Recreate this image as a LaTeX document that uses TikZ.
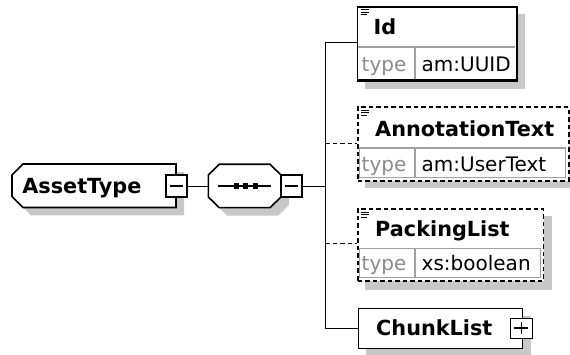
\documentclass[tikz,border=0pt]{standalone}
\usepackage{fontspec}
\setmainfont{DejaVu Sans}
\usetikzlibrary{calc}
\definecolor{shadowgray}{RGB}{200,200,200}
\definecolor{divgray}{RGB}{160,160,160}
\definecolor{typegray}{RGB}{140,140,140}
\pgfdeclarelayer{bg}
\pgfsetlayers{bg,main}
\begin{document}
\begin{tikzpicture}[x=1pt,y=-1pt, line width=1.6pt,
  namefont/.style={font=\bfseries\fontsize{20.8}{24}\selectfont, inner sep=0pt, anchor=base west},
  typefont/.style={font=\fontsize{20}{24}\selectfont, inner sep=0pt, anchor=base west},
  typelabel/.style={typefont, text=typegray},
  elembox/.style={draw, fill=white, inner sep=0pt, anchor=north west},
  optbox/.style={elembox, dash pattern=on 4.5pt off 3pt},
  optline/.style={dash pattern=on 4.5pt off 3pt},
  divider/.style={draw=divgray, line width=1.2pt},
  pmbox/.style={draw, fill=white, inner sep=0pt, minimum width=21.5pt, minimum height=21.5pt},
  minusbox/.style={pmbox, path picture={\draw[line width=1.4pt] ($(path picture bounding box.west)+(4,0)$) -- ($(path picture bounding box.east)+(-4,0)$);}},
  plusbox/.style={pmbox, minimum height=20.5pt, path picture={\draw[line width=1.4pt] ($(path picture bounding box.west)+(4,0)$) -- ($(path picture bounding box.east)+(-4,0)$); \draw[line width=1.4pt] ($(path picture bounding box.north)+(0,4)$) -- ($(path picture bounding box.south)+(0,-4)$);}},
  iconline/.style={line width=1pt}
]
\useasboundingbox (0,0) rectangle (570,355);

% ---------- AssetType ----------
\fill[shadowgray] (20,183) -- (31,172) -- (184,172) -- (184,215.5) -- (31,215.5) -- (20,204.5) -- cycle;
\draw[fill=white] (12,175) -- (23,164) -- (176,164) -- (176,207.5) -- (23,207.5) -- (12,196.5) -- cycle;
\node[namefont] (assettype) at (21.5,193.5) {AssetType};
\node[minusbox] (atminus) at (176.5,186) {};

% ---------- sequence ----------
\fill[shadowgray] (216.3,183) -- (227.3,172.3) -- (278,172.3) -- (289,183) -- (289,205) -- (278,215.7) -- (227.3,215.7) -- (216.3,205) -- cycle;
\draw[fill=white] (208.3,175) -- (219.3,164.3) -- (270,164.3) -- (281,175) -- (281,197) -- (270,207.7) -- (219.3,207.7) -- (208.3,197) -- cycle;
\coordinate (seqW) at (208.3,186);
\draw (218.3,186) -- (270.7,186);
\fill (233.5,183.3) rectangle +(5.4,5.4);
\fill (243,183.3) rectangle +(5.4,5.4);
\fill (252.5,183.3) rectangle +(5.4,5.4);
\node[minusbox] (seqminus) at (291.5,186) {};

% ---------- child boxes ----------
\node[elembox, minimum width=159pt, minimum height=73.5pt] (Id) at (356.7,6) {};
\node[optbox, minimum width=211pt, minimum height=73.5pt] (Ann) at (357,106.5) {};
\node[optbox, minimum width=185.7pt, minimum height=71.7pt] (Pack) at (357,208.3) {};
\node[elembox, minimum width=164pt, minimum height=40pt] (Chunk) at (357.7,307.7) {};

\begin{pgfonlayer}{bg}
\fill[shadowgray] ($(Id.north west)+(8,8)$) rectangle ($(Id.south east)+(8,8)$);
\fill[shadowgray] ($(Ann.north west)+(8,8)$) rectangle (570,188);
\fill[shadowgray] ($(Pack.north west)+(8,8)$) rectangle ($(Pack.south east)+(8,8)$);
\fill[shadowgray] ($(Chunk.north west)+(8,8)$) rectangle ($(Chunk.south east)+(8,8)$);
\end{pgfonlayer}

% Id
\draw[divider] (357.5,47) -- (514.9,47);
\draw[divider] (415,47) -- (415,78.7);
\draw[iconline] (360.5,10) -- (368.5,10) (360.5,12.5) -- (368.5,12.5) (360.5,15) -- (366.5,15);
\node[namefont] (idname) at (373.5,35) {Id};
\node[typelabel] (idtype) at (361.5,71.3) {type};
\node[typefont] (idval) at (421.5,71.3) {am:UUID};
\draw (Id.north west) rectangle (Id.south east);

% AnnotationText
\draw[divider] (359.8,148) rectangle (565.2,177.4);
\draw[divider] (415,148) -- (415,177.4);
\draw[iconline] (360.8,110.5) -- (368.8,110.5) (360.8,113) -- (368.8,113) (360.8,115.5) -- (366.8,115.5);
\node[namefont] (annname) at (375,136.2) {AnnotationText};
\node[typelabel] (anntype) at (361.5,171.6) {type};
\node[typefont] (annval) at (421.5,171.6) {am:UserText};

% PackingList
\draw[divider] (359.8,248.5) rectangle (540.2,277.4);
\draw[divider] (415,248.5) -- (415,277.4);
\draw[iconline] (360.8,212.3) -- (368.8,212.3) (360.8,214.8) -- (368.8,214.8) (360.8,217.3) -- (366.8,217.3);
\node[namefont] (packname) at (375,236.5) {PackingList};
\node[typelabel] (packtype) at (361.5,271) {type};
\node[typefont] (packval) at (421.5,271) {xs:boolean};

% ChunkList
\node[namefont] (chunkname) at (376,335) {ChunkList};
\node[plusbox] (chplus) at (521.2,328) {};

% ---------- connectors ----------
\coordinate (vtop) at (325,42.7);
\coordinate (vmid) at (325,186);
\coordinate (vann) at (325,143);
\coordinate (vpack) at (325,243.3);
\coordinate (vbot) at (325,327.7);
\draw (atminus.east) -- (seqW);
\draw (seqminus.east) -- (vmid);
\draw (vtop) -- (vbot);
\draw (vtop) -- (vtop -| Id.west);
\draw[optline] (vann) -- (vann -| Ann.west);
\draw[optline] (vpack) -- (vpack -| Pack.west);
\draw (vbot) -- (vbot -| Chunk.west);
\end{tikzpicture}
\end{document}
